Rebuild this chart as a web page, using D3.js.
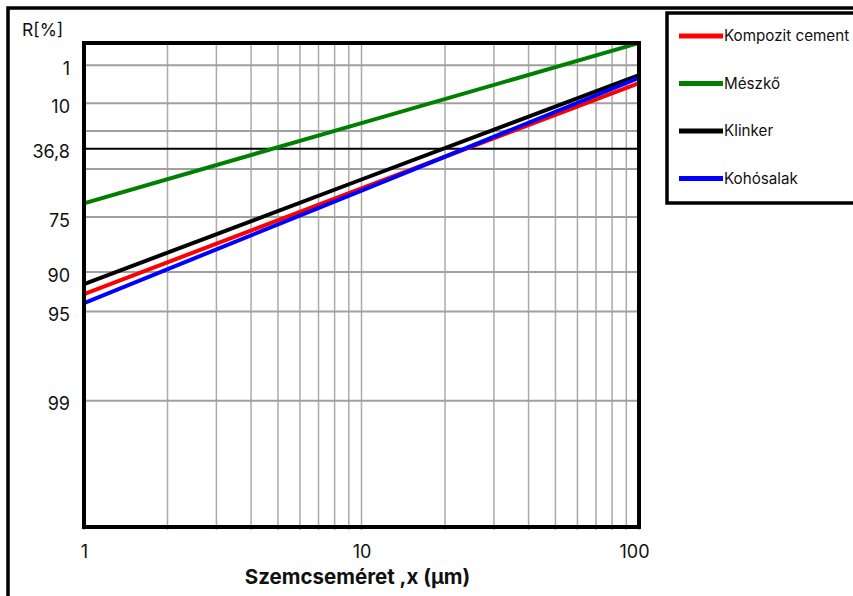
<!DOCTYPE html>
<html>
<head>
<meta charset="utf-8">
<script src="https://cdn.jsdelivr.net/npm/d3@7/dist/d3.min.js"></script>
<style>
  body { margin: 0; background: #fff; }
  svg { font-family: Inter, "Noto Sans", sans-serif; }
</style>
</head>
<body>
<div id="wrapper"></div>
<script>
const sizes = [1, 10, 100];
// residue R[%] at each size
const kompozit = [93.2, 61.6, 3.6];
const meszko = [69.1, 20.2, 0.1];
const klinker = [91.9, 56.5, 2.13];
const kohosalak = [94.2, 62.7, 2.6];

const seriesNames = ["Kompozit cement", "Mészkő", "Klinker", "Kohósalak"];
const seriesColors = ["#ff0000", "#008000", "#000000", "#0000ff"];
const seriesValues = [kompozit, meszko, klinker, kohosalak];

const yTicks = [1, 10, 36.8, 75, 90, 95, 99];
const yGrid = [1, 10, 25, 50, 75, 90, 95, 99];
const xTicks = [1, 10, 100];

function buildPlot() {
    const dimension = {
        width: 853,
        height: 596,
        margin: { top: 43, left: 84, bottom: 69, right: 214 }
    };
    dimension.boundedWidth = dimension.width - dimension.margin.left - dimension.margin.right;
    dimension.boundedHeight = dimension.height - dimension.margin.top - dimension.margin.bottom;

    const svg = d3.select("#wrapper").append("svg")
        .attr("width", dimension.width)
        .attr("height", dimension.height);

    // outer frame, runs off the right and bottom edges
    svg.append("rect")
        .attr("x", 8).attr("y", 8)
        .attr("width", 1000).attr("height", 1000)
        .attr("fill", "#fff")
        .attr("stroke", "#000")
        .attr("stroke-width", 3.5);

    // RRSB transform: ln(ln(100/R))
    const rr = (r) => Math.log(Math.log(100 / r));

    const scaleX = d3.scaleLog()
        .domain([1, 100])
        .range([0, dimension.boundedWidth]);

    const scaleY = d3.scaleLinear()
        .domain([rr(0.1), rr(99.9)])
        .range([0, dimension.boundedHeight]);
    const yOf = (r) => scaleY(rr(r));

    const bounded = svg.append("g")
        .attr("transform", `translate(${dimension.margin.left},${dimension.margin.top})`);

    // vertical grid (log minor lines)
    const xGrid = [];
    [1, 10].forEach(dec => { for (let k = 1; k <= 9; k++) xGrid.push(dec * k); });
    xGrid.push(100);
    bounded.append("g")
        .selectAll("line")
        .data(xGrid)
        .join("line")
        .attr("x1", d => scaleX(d)).attr("x2", d => scaleX(d))
        .attr("y1", 0).attr("y2", dimension.boundedHeight + 3)
        .attr("stroke", "#aaaaaa")
        .attr("stroke-width", 1.5);

    // horizontal grid
    bounded.append("g")
        .selectAll("line")
        .data(yGrid)
        .join("line")
        .attr("x1", 0).attr("x2", dimension.boundedWidth)
        .attr("y1", d => yOf(d)).attr("y2", d => yOf(d))
        .attr("stroke", "#a0a0a0")
        .attr("stroke-width", 2);

    bounded.append("line")
        .attr("x1", 0).attr("x2", dimension.boundedWidth)
        .attr("y1", yOf(36.8)).attr("y2", yOf(36.8))
        .attr("stroke", "#000")
        .attr("stroke-width", 2);

    // series lines
    const line = d3.line()
        .x((d, i) => scaleX(sizes[i]))
        .y(d => yOf(d));

    bounded.append("defs").append("clipPath")
        .attr("id", "clip")
        .append("rect")
        .attr("width", dimension.boundedWidth)
        .attr("height", dimension.boundedHeight);

    bounded.append("g")
        .attr("clip-path", "url(#clip)")
        .selectAll("path")
        .data(seriesValues)
        .join("path")
        .attr("d", d => line(d))
        .attr("fill", "none")
        .attr("stroke", (d, i) => seriesColors[i])
        .attr("stroke-width", 4);

    // plot frame
    bounded.append("rect")
        .attr("width", dimension.boundedWidth)
        .attr("height", dimension.boundedHeight)
        .attr("fill", "none")
        .attr("stroke", "#000")
        .attr("stroke-width", 4);

    // axes
    const yAxis = bounded.append("g")
        .call(d3.axisLeft(scaleY)
            .tickValues(yTicks.map(rr))
            .tickFormat((d, i) => String(yTicks[i]).replace(".", ","))
            .tickSize(0)
            .tickPadding(14));
    yAxis.select(".domain").remove();
    yAxis.selectAll("text")
        .attr("font-size", "18px")
        .attr("font-family", "Inter, sans-serif")
        .attr("fill", "#111")
        .attr("dy", "0.5em");

    const xAxis = bounded.append("g")
        .attr("transform", `translate(0,${dimension.boundedHeight})`)
        .call(d3.axisBottom(scaleX)
            .tickValues(xTicks)
            .tickFormat(d3.format("d"))
            .tickSize(0)
            .tickPadding(18));
    xAxis.select(".domain").remove();
    xAxis.selectAll("text")
        .attr("font-size", "18px")
        .attr("font-family", "Inter, sans-serif")
        .attr("fill", "#111");
    xAxis.selectAll(".tick").filter(d => d === 100)
        .select("text").attr("dx", -5);

    svg.append("text")
        .attr("x", 22).attr("y", 36)
        .attr("font-size", "17.5px")
        .attr("fill", "#111")
        .text("R[%]");

    svg.append("text")
        .attr("x", dimension.margin.left + dimension.boundedWidth / 2 - 4)
        .attr("y", 584)
        .attr("text-anchor", "middle")
        .attr("font-size", "20.5px")
        .attr("font-weight", "bold")
        .attr("fill", "#111")
        .text("Szemcseméret ,x (µm)");

    // legend
    const legend = svg.append("g");
    legend.append("rect")
        .attr("x", 667).attr("y", 13)
        .attr("width", 300).attr("height", 190)
        .attr("fill", "#fff")
        .attr("stroke", "#000")
        .attr("stroke-width", 3.5);

    const items = legend.selectAll("g.item")
        .data(seriesNames)
        .join("g")
        .attr("class", "item")
        .attr("transform", (d, i) => `translate(679,${36 + i * 47.5})`);
    items.append("line")
        .attr("x1", 0).attr("x2", 44)
        .attr("stroke", (d, i) => seriesColors[i])
        .attr("stroke-width", 5);
    items.append("text")
        .attr("x", 45)
        .attr("dy", "0.35em")
        .attr("font-size", "15.2px")
        .attr("fill", "#111")
        .text(d => d);
}

buildPlot();
</script>
</body>
</html>
